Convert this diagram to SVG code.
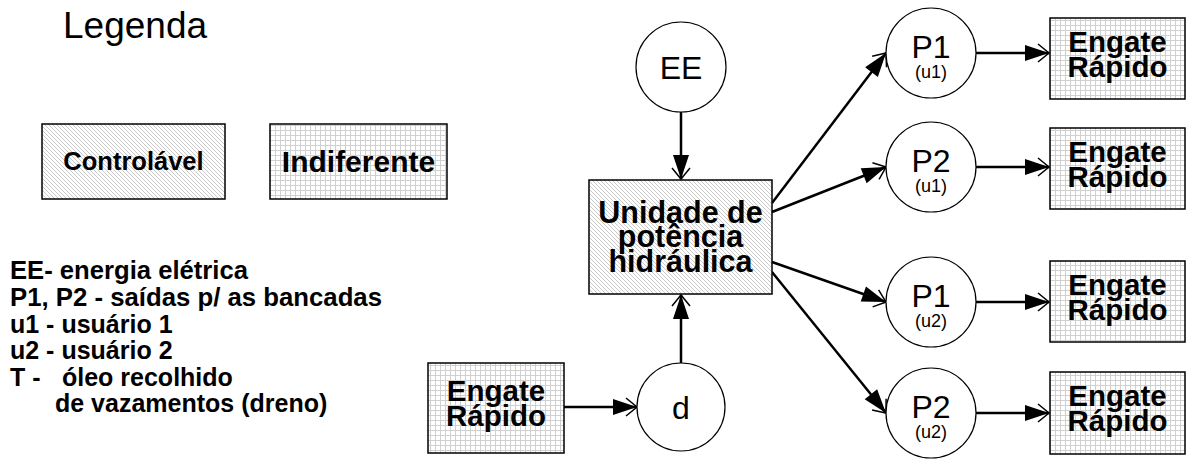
<svg xmlns="http://www.w3.org/2000/svg" width="1191" height="461" viewBox="0 0 1191 461">
<style>
.box{stroke:#000;stroke-width:1.5}
.hatch{fill:url(#hatch)}
.grid{fill:url(#grid)}
.circ{fill:#fff;stroke:#000;stroke-width:1.2}
.b{font-family:"Liberation Sans",Arial,sans-serif;font-weight:bold;fill:#000}
.n{font-family:"Liberation Sans",Arial,sans-serif;fill:#000}
.c{stroke:#000;stroke-width:2.5;fill:none}
.pl{font-size:32px}
.ul{font-size:18px}
.eg{font-size:29.5px}
</style>
<defs>
<pattern id="hatch" patternUnits="userSpaceOnUse" width="4" height="4">
<rect width="4" height="4" fill="#fff"/>
<path d="M-1,-1 L5,5 M-1,3 L1,5 M3,-1 L5,1" stroke="#b2b2b2" stroke-width="0.7"/>
</pattern>
<pattern id="grid" patternUnits="userSpaceOnUse" width="5" height="5">
<rect width="5" height="5" fill="#fff"/>
<path d="M0,0.5 H5 M0.5,0 V5" stroke="#d0d0d0" stroke-width="1"/>
</pattern>
<marker id="arr" markerUnits="userSpaceOnUse" viewBox="-30 -12 32 24" refX="0" refY="0" markerWidth="32" markerHeight="24" orient="auto">
<path d="M0,0 L-24,-8 L-24,8 Z" fill="#000"/>
<path d="M-11,-9 L0,0 L-11,9" fill="none" stroke="#000" stroke-width="1.5"/>
</marker>
</defs>

<g id="legend">
<text class="n" x="63" y="38" font-size="37">Legenda</text>
<g id="legend-controlavel">
<rect class="box hatch" x="42" y="124" width="183" height="75"/>
<text class="b" x="133.5" y="170" font-size="25.5" text-anchor="middle">Controlável</text>
</g>
<g id="legend-indiferente">
<rect class="box grid" x="270" y="124" width="177" height="75"/>
<text class="b" x="358.5" y="172" font-size="30" text-anchor="middle">Indiferente</text>
</g>
<g id="legend-text" class="b" font-size="25">
<text x="10" y="279" textLength="238" lengthAdjust="spacingAndGlyphs">EE- energia elétrica</text>
<text x="10" y="306" textLength="372" lengthAdjust="spacingAndGlyphs">P1, P2 - saídas p/ as bancadas</text>
<text x="10" y="333">u1 - usuário 1</text>
<text x="10" y="359">u2 - usuário 2</text>
<text x="10" y="386">T - <tspan x="62">óleo recolhido</tspan></text>
<text x="55" y="412">de vazamentos (dreno)</text>
</g>
</g>

<g id="connectors">
<line class="c" x1="681" y1="112" x2="681" y2="179" marker-end="url(#arr)"/>
<line class="c" x1="681" y1="363" x2="681" y2="295" marker-end="url(#arr)"/>
<line class="c" x1="564" y1="407" x2="637" y2="407" marker-end="url(#arr)"/>
<line class="c" x1="772" y1="203" x2="886" y2="53" marker-end="url(#arr)"/>
<line class="c" x1="772" y1="212" x2="886" y2="167" marker-end="url(#arr)"/>
<line class="c" x1="772" y1="262" x2="886" y2="302" marker-end="url(#arr)"/>
<line class="c" x1="772" y1="272" x2="886" y2="413" marker-end="url(#arr)"/>
<line class="c" x1="976" y1="53" x2="1049" y2="53" marker-end="url(#arr)"/>
<line class="c" x1="976" y1="167" x2="1049" y2="167" marker-end="url(#arr)"/>
<line class="c" x1="976" y1="302" x2="1049" y2="302" marker-end="url(#arr)"/>
<line class="c" x1="976" y1="413" x2="1049" y2="413" marker-end="url(#arr)"/>
</g>

<g id="unidade">
<rect class="box hatch" x="589" y="180" width="183" height="114"/>
<g class="b" font-size="30.5" text-anchor="middle">
<text x="680.5" y="223">Unidade de</text>
<text x="680.5" y="247">potência</text>
<text x="680.5" y="272">hidráulica</text>
</g>
</g>

<g id="ee">
<circle class="circ" cx="681" cy="67" r="45"/>
<text class="n pl" x="681" y="79" text-anchor="middle">EE</text>
</g>

<g id="d">
<circle class="circ" cx="681" cy="407" r="44"/>
<text class="n pl" x="681" y="419" text-anchor="middle">d</text>
</g>

<g id="p1u1">
<circle class="circ" cx="931" cy="53" r="45"/>
<text class="n pl" x="931" y="58" text-anchor="middle">P1</text>
<text class="n ul" x="931" y="78" text-anchor="middle">(u1)</text>
</g>
<g id="p2u1">
<circle class="circ" cx="931" cy="167" r="45"/>
<text class="n pl" x="931" y="172" text-anchor="middle">P2</text>
<text class="n ul" x="931" y="192" text-anchor="middle">(u1)</text>
</g>
<g id="p1u2">
<circle class="circ" cx="931" cy="302" r="45"/>
<text class="n pl" x="931" y="307" text-anchor="middle">P1</text>
<text class="n ul" x="931" y="327" text-anchor="middle">(u2)</text>
</g>
<g id="p2u2">
<circle class="circ" cx="931" cy="413" r="45"/>
<text class="n pl" x="931" y="418" text-anchor="middle">P2</text>
<text class="n ul" x="931" y="438" text-anchor="middle">(u2)</text>
</g>

<g id="engate1">
<rect class="box grid" x="1050" y="18" width="135" height="81"/>
<text class="b eg" x="1117.5" y="52" text-anchor="middle">Engate</text>
<text class="b eg" x="1117.5" y="77" text-anchor="middle">Rápido</text>
</g>
<g id="engate2">
<rect class="box grid" x="1050" y="128" width="135" height="81"/>
<text class="b eg" x="1117.5" y="162" text-anchor="middle">Engate</text>
<text class="b eg" x="1117.5" y="187" text-anchor="middle">Rápido</text>
</g>
<g id="engate3">
<rect class="box grid" x="1050" y="261" width="135" height="81"/>
<text class="b eg" x="1117.5" y="295" text-anchor="middle">Engate</text>
<text class="b eg" x="1117.5" y="320" text-anchor="middle">Rápido</text>
</g>
<g id="engate4">
<rect class="box grid" x="1050" y="372" width="135" height="82"/>
<text class="b eg" x="1117.5" y="406" text-anchor="middle">Engate</text>
<text class="b eg" x="1117.5" y="431" text-anchor="middle">Rápido</text>
</g>
<g id="engate-in">
<rect class="box grid" x="428" y="363" width="136" height="90"/>
<text class="b eg" x="496" y="401" text-anchor="middle">Engate</text>
<text class="b eg" x="496" y="426" text-anchor="middle">Rápido</text>
</g>
</svg>
